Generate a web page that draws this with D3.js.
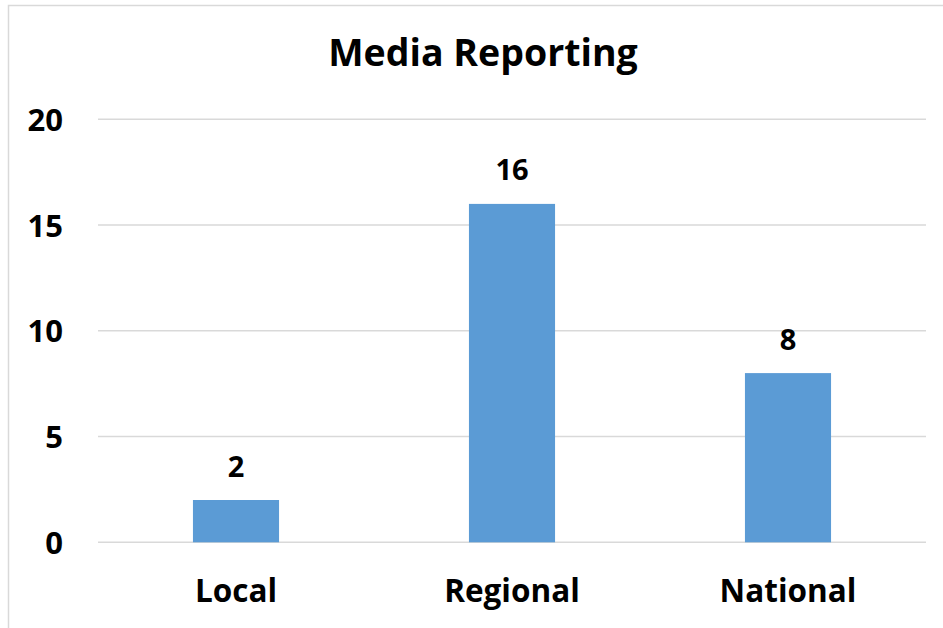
<!DOCTYPE html>
<html><head><meta charset="utf-8">
<script src="https://cdn.jsdelivr.net/npm/d3@7/dist/d3.min.js"></script>
<style>body{margin:0;background:#fff}svg{display:block}text{font-family:"Open Sans",sans-serif;font-weight:bold;fill:#000}</style>
</head><body>
<script>
const categories = ["Local", "Regional", "National"];
const values = [2, 16, 8];
const yTicks = [0, 5, 10, 15, 20];
const title = "Media Reporting";

const W = 943, H = 628;
const svg = d3.select("body").append("svg").attr("width", W).attr("height", H);

// chart border
svg.append("path").attr("d", `M8.5,${H} L8.5,5.5 L${W},5.5`).attr("fill", "none").attr("stroke", "#d9d9d9").attr("stroke-width", 1.5);

const x = d3.scaleBand().domain(categories).range([98, 926]).paddingInner(0.688).paddingOuter(0.344);
const y = d3.scaleLinear().domain([0, 20]).range([542.3, 119.3]);

// gridlines
svg.append("g").selectAll("line").data(yTicks).join("line")
  .attr("x1", 98).attr("x2", 926)
  .attr("y1", d => y(d)).attr("y2", d => y(d))
  .attr("stroke", "#d9d9d9").attr("stroke-width", 1.5);

// y axis labels
const yAxis = d3.axisLeft(y).tickValues(yTicks).tickSize(0).tickPadding(0);
const ga = svg.append("g").attr("transform", "translate(63,0)").call(yAxis);
ga.select(".domain").remove();
ga.selectAll("text").attr("font-size", 31).attr("font-family", "Open Sans").attr("font-weight", "bold").attr("dy", 0).attr("y", 11).attr("fill", "#000");

// bars
svg.append("g").selectAll("rect").data(values).join("rect")
  .attr("x", (d, i) => x(categories[i]))
  .attr("width", x.bandwidth())
  .attr("y", d => y(d))
  .attr("height", d => y(0) - y(d))
  .attr("fill", "#5b9bd5");

// value labels
svg.append("g").selectAll("text").data(values).join("text")
  .attr("x", (d, i) => x(categories[i]) + x.bandwidth() / 2)
  .attr("y", d => y(d) - 23.5)
  .attr("text-anchor", "middle").attr("font-size", 29)
  .text(d => d);

// x axis labels
const xAxis = d3.axisBottom(x).tickSize(0).tickPadding(0);
const gx = svg.append("g").attr("transform", "translate(0,601.5)").call(xAxis);
gx.select(".domain").remove();
gx.selectAll("text").attr("font-size", 31.5).attr("font-family", "Open Sans").attr("font-weight", "bold").attr("dy", 0).attr("y", 0).attr("fill", "#000");

// title
svg.append("text").attr("x", 483).attr("y", 66).attr("text-anchor", "middle").attr("font-size", 37.5).text(title);
</script>
</body></html>
